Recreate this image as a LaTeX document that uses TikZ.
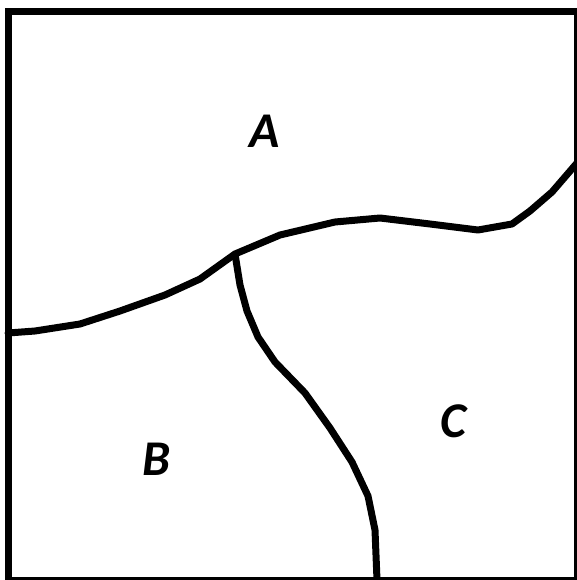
\documentclass[tikz,border=0pt]{standalone}
\usepackage{fontspec}
\setmainfont{Carlito}
\tikzset{
  region/.style={font=\bfseries\itshape\fontsize{50}{50}\selectfont, inner sep=0pt},
  boundary/.style={line width=7pt, line join=round, line cap=round},
  frame/.style={line width=7pt}
}
\begin{document}
\begin{tikzpicture}[x=1pt,y=-1pt]
\useasboundingbox (0,0) rectangle (577,580);
\begin{scope}
\clip (0,0) rectangle (577,580);
\draw[frame] (8.5,11.5) rectangle (577,580.5);
\coordinate (j) at (235,254);
\draw[boundary] (8,333) -- (35,331) -- (80,324) -- (120,311) -- (165,295) -- (200,279) -- (j)
  -- (280,235) -- (335,222) -- (380,218) -- (430,224) -- (478,230) -- (512,224)
  -- (530,211) -- (552,192) -- (577,163);
\draw[boundary, line cap=butt] (j) -- (240,285) -- (247,311) -- (258,337) -- (275,362) -- (305,393)
  -- (330,428) -- (352,462) -- (368,496) -- (375,530) -- (377,580);
\end{scope}
\node[region] (A) at (265,131) {A};
\node[region] (B) at (157,459) {B};
\node[region] (C) at (453,421) {C};
\end{tikzpicture}
\end{document}
